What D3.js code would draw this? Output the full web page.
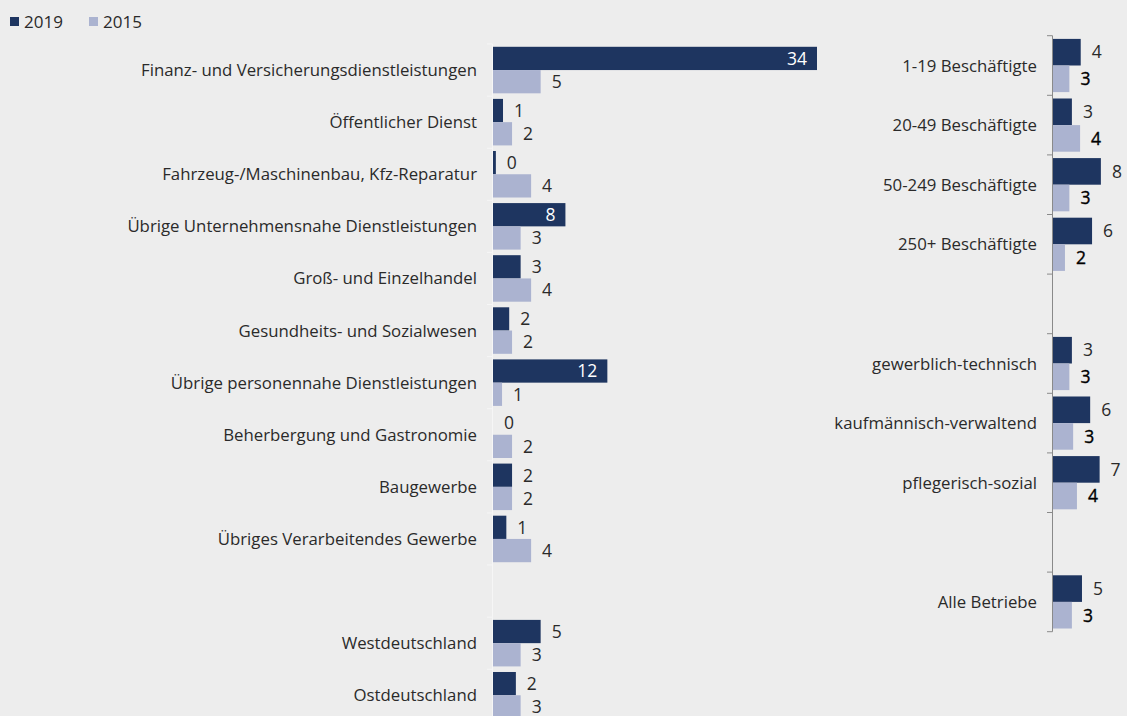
<!DOCTYPE html>
<html><head><meta charset="utf-8">
<script src="https://cdn.jsdelivr.net/npm/d3@7/dist/d3.min.js"></script>
<style>
html,body{margin:0;padding:0;background:#ededed;}
svg{display:block;font-family:"Open Sans",sans-serif;}
</style></head><body>
<svg id="c" width="1127" height="716"></svg>
<script>
const seriesNames = ["2019", "2015"];
const leftCategories = ["Finanz- und Versicherungsdienstleistungen","Öffentlicher Dienst","Fahrzeug-/Maschinenbau, Kfz-Reparatur","Übrige Unternehmensnahe Dienstleistungen","Groß- und Einzelhandel","Gesundheits- und Sozialwesen","Übrige personennahe Dienstleistungen","Beherbergung und Gastronomie","Baugewerbe","Übriges Verarbeitendes Gewerbe","","Westdeutschland","Ostdeutschland"];
const left2019 = [34, 1.05, 0.3, 7.6, 2.9, 1.7, 12.0, 0, 2.0, 1.4, null, 5.0, 2.4];
const left2015 = [5.0, 2.0, 4.0, 2.9, 4.0, 2.0, 0.95, 2.0, 2.0, 4.0, null, 2.9, 2.9];
const rightCategories = ["1-19 Beschäftigte","20-49 Beschäftigte","50-249 Beschäftigte","250+ Beschäftigte","","gewerblich-technisch","kaufmännisch-verwaltend","pflegerisch-sozial","","Alle Betriebe"];
const right2019 = [4.4, 3.0, 7.6, 6.2, null, 3.0, 5.9, 7.4, null, 4.6];
const right2015 = [2.6, 4.3, 2.6, 1.9, null, 2.6, 3.2, 3.8, null, 3.0];

const colors = {"2019":"#1e3560","2015":"#abb3d0"};
const svg = d3.select("#c");

function panel(cfg){
  const keys = cfg.cats.map((c,i)=> c===""? "__gap"+i : c);
  const y = d3.scaleBand().domain(keys).range(cfg.yRange).paddingInner(0).paddingOuter(0);
  const sub = d3.scaleBand().domain(seriesNames).range([0, y.bandwidth()]).paddingInner(0).paddingOuter(0.12);
  const x = d3.scaleLinear().domain([0, cfg.maxV]).range([cfg.x0, cfg.x0 + cfg.maxPx]);
  const g = svg.append("g");
  const bounds = keys.map(k=>y(k)).concat([y(keys[keys.length-1]) + y.step()]);
  g.append("line").attr("x1",cfg.x0-0.5).attr("x2",cfg.x0-0.5)
    .attr("y1",cfg.yRange[0]).attr("y2",Math.min(cfg.yRange[1],716))
    .attr("stroke",cfg.axisColor).attr("stroke-width",1);
  g.selectAll("line.tk").data(bounds).join("line").attr("class","tk")
    .attr("x1",cfg.x0-6).attr("x2",cfg.x0-0.5).attr("y1",d=>d).attr("y2",d=>d)
    .attr("stroke",cfg.axisColor).attr("stroke-width",1);
  const data = [];
  keys.forEach((k,i)=>{
    if(cfg.cats[i]==="") return;
    data.push({k, s:"2019", v:cfg.a[i]});
    data.push({k, s:"2015", v:cfg.b[i]});
  });
  g.selectAll("rect.bar").data(data).join("rect").attr("class","bar")
    .attr("x",x(0)).attr("y",d=>y(d.k)+sub(d.s))
    .attr("width",d=>x(d.v)-x(0)).attr("height",sub.bandwidth())
    .attr("fill",d=>colors[d.s]);
  g.selectAll("text.val").data(data).join("text").attr("class","val")
    .attr("y",d=>y(d.k)+sub(d.s)+sub.bandwidth()/2)
    .attr("dy","0.36em")
    .attr("font-size",17.5)
    .each(function(d){
      const w = x(d.v)-x(0);
      const t = d3.select(this).text(Math.round(d.v));
      if(w>60){ t.attr("x",x(d.v)-10).attr("text-anchor","end").attr("fill","#ffffff"); }
      else {
        t.attr("x",x(d.v)+11).attr("text-anchor","start");
        if(d.s==="2015" && cfg.boldB){ t.attr("fill","#000").attr("stroke","#000").attr("stroke-width",0.35); }
        else { t.attr("fill","#2a2a2a"); }
      }
    });
  g.selectAll("text.cat").data(keys.filter((k,i)=>cfg.cats[i]!=="")).join("text").attr("class","cat")
    .attr("x",cfg.x0-16).attr("y",k=>y(k)+y.bandwidth()/2).attr("dy","0.36em")
    .attr("text-anchor","end").attr("font-size",16.8).attr("fill","#2a2a2a").text(d=>d);
}

panel({cats:leftCategories, a:left2019, b:left2015, yRange:[44, 721.3], x0:493, maxV:34, maxPx:324, axisColor:"#f6f6f6", boldB:false});
panel({cats:rightCategories, a:right2019, b:right2015, yRange:[35.7, 631.7], x0:1053, maxV:10, maxPx:63, axisColor:"#8a8a8a", boldB:true});

const lg = svg.append("g");
const legendX = [10, 89];
seriesNames.forEach((s,i)=>{
  lg.append("rect").attr("x",legendX[i]).attr("y",17).attr("width",9).attr("height",9).attr("fill",colors[s]);
  lg.append("text").attr("x",legendX[i]+14).attr("y",27.5).attr("font-size",17).attr("fill","#2a2a2a").text(s);
});
</script>
</body></html>
